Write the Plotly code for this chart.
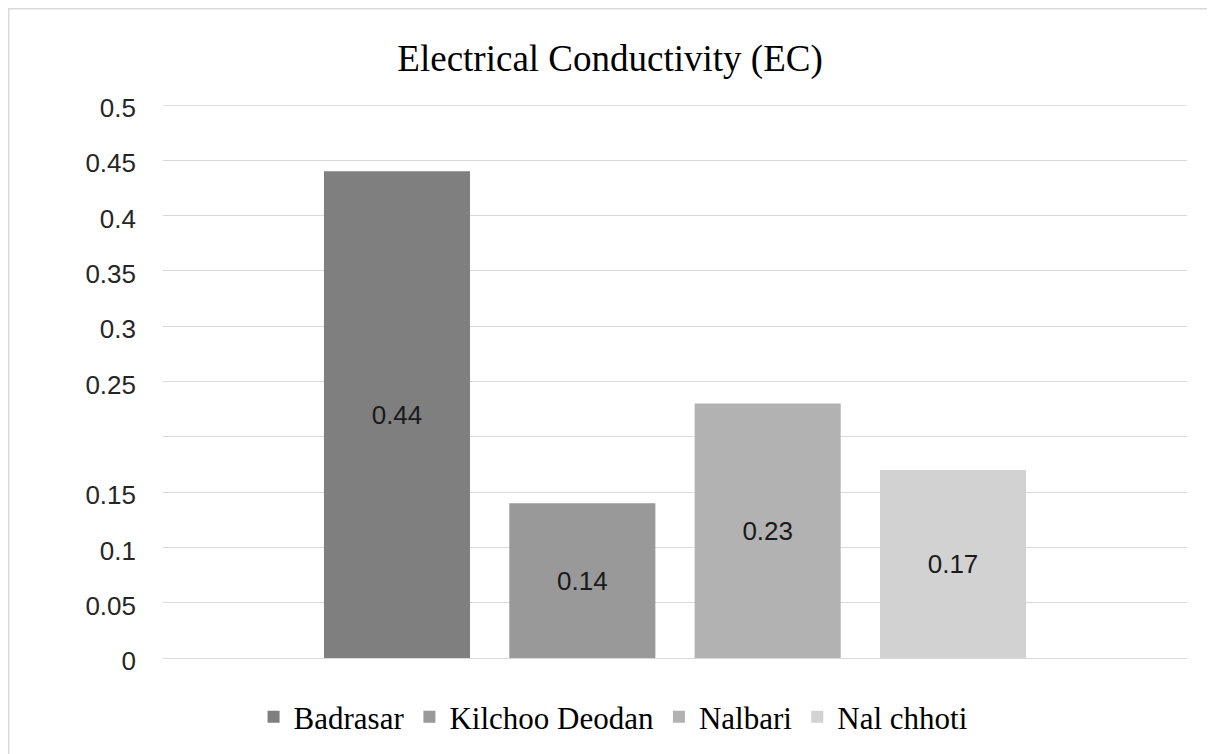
import plotly.graph_objects as go

sites = ['Badrasar', 'Kilchoo Deodan', 'Nalbari', 'Nal chhoti']
ec_values = [0.44, 0.14, 0.23, 0.17]
bar_colors = ['#7f7f7f', '#999999', '#b2b2b2', '#d2d2d2']

y_tick_vals = [0, 0.05, 0.1, 0.15, 0.2, 0.25, 0.3, 0.35, 0.4, 0.45, 0.5]
y_tick_text = ['0', '0.05', '0.1', '0.15', '', '0.25', '0.3', '0.35', '0.4', '0.45', '0.5']

# page has an 8px body margin, so the figure is a bit smaller than the window
W, H = 1207, 746
ML, MR, MT, MB = 155, 28, 97, 96
PW, PH = W - ML - MR, H - MT - MB

fig = go.Figure()

for site, val, col in zip(sites, ec_values, bar_colors):
    fig.add_trace(go.Bar(
        x=['EC'], y=[val], name=site,
        marker=dict(color=col, line=dict(width=0)),
        text=[f'{val:g}'], textposition='inside', insidetextanchor='middle',
        textfont=dict(family='Liberation Sans', size=26, color='#1a1a1a'),
        hoverinfo='name+y'))

# light outline of the chart area (cut off on the right and bottom)
fig.add_shape(type='rect', xref='paper', yref='paper',
              x0=(0.5 - ML) / PW, x1=1.3, y0=-0.5, y1=1 + (MT - 0.5) / PH,
              line=dict(color='#d9d9d9', width=2), layer='below')

# top gridline (plotly drops the one sitting on the range edge)
fig.add_shape(type='line', xref='paper', yref='y', x0=0, x1=1,
              y0=y_tick_vals[-1], y1=y_tick_vals[-1],
              line=dict(color='#d9d9d9', width=1.3), layer='below')

fig.update_layout(
    width=W, height=H,
    title=dict(text='Electrical Conductivity (EC)', x=0.4988, xanchor='center',
               y=1 - 50 / H, yanchor='middle',
               font=dict(family='Liberation Serif', size=37, color='#000000')),
    barmode='group', bargap=0.276, bargroupgap=0.212,
    plot_bgcolor='white', paper_bgcolor='white',
    margin=dict(l=ML, r=MR, t=MT, b=MB, autoexpand=False),
    xaxis=dict(showticklabels=False, showgrid=False, zeroline=False, showline=False),
    yaxis=dict(range=[0, 0.5], tickvals=y_tick_vals, ticktext=y_tick_text,
               showgrid=True, gridcolor='#d9d9d9', gridwidth=1.3,
               zeroline=True, zerolinecolor='#d9d9d9', zerolinewidth=1.3,
               showline=False, ticks='', ticklabelstandoff=26, ticklabelshift=3,
               tickfont=dict(family='Liberation Sans', size=26, color='#262626')),
    legend=dict(orientation='h', x=0.44, xanchor='center', y=-59 / PH, yanchor='middle',
                font=dict(family='Liberation Serif', size=31, color='#000000'),
                traceorder='normal'),
    showlegend=True,
)

fig.write_html('out.html')
